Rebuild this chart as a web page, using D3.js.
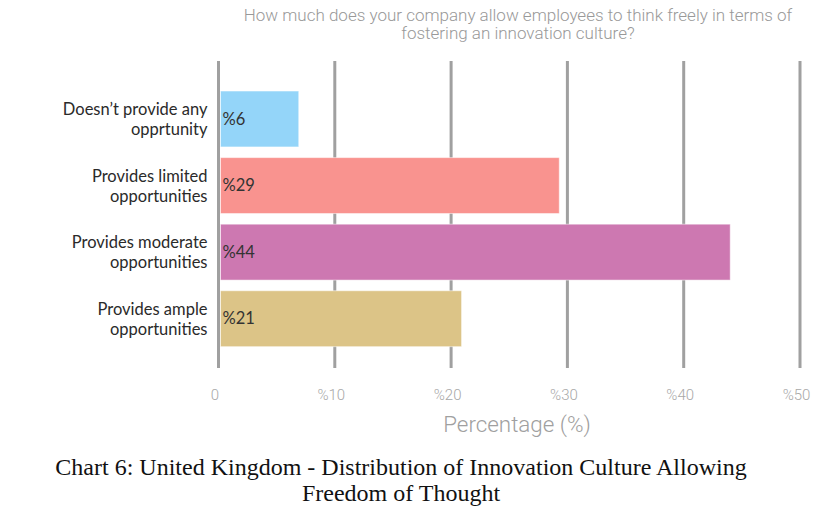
<!DOCTYPE html>
<html>
<head>
<meta charset="utf-8">
<script src="https://cdn.jsdelivr.net/npm/d3@7"></script>
<style>
  body { margin: 0; background: #fff; }
  svg { display: block; }
</style>
</head>
<body>
<svg id="chart"></svg>
<script>
// data
const categories = [
    ['Doesn\u2019t provide any', 'opprtunity'],
    ['Provides limited', 'opportunities'],
    ['Provides moderate', 'opportunities'],
    ['Provides ample', 'opportunities']
]
const values = [6.9, 29.3, 44.0, 20.9]
const valueLabels = ['%6', '%29', '%44', '%21']
const colors = ['#94d5f9', '#f9938f', '#cd78b1', '#dcc487']
const xTicks = [0, 10, 20, 30, 40, 50]
const titleLines = [
    'How much does your company allow employees to think freely in terms of',
    'fostering an innovation culture?'
]
const captionLines = [
    'Chart 6: United Kingdom - Distribution of Innovation Culture Allowing',
    'Freedom of Thought'
]

const width = 840
const height = 511
const margin = {top: 61, right: 40, bottom: 143, left: 218.5}
const innerW = width - margin.left - margin.right
const innerH = height - margin.top - margin.bottom

const svg = d3.select('#chart')
    .attr('width', width)
    .attr('height', height)

const x = d3.scaleLinear()
    .domain([0, 50])
    .range([0, innerW])

const y = d3.scaleBand()
    .domain(d3.range(categories.length))
    .range([24.7, 291])
    .paddingInner(0.16)
    .paddingOuter(0.08)

const g = svg.append('g')
    .attr('transform', 'translate(' + margin.left + ',' + margin.top + ')')

// vertical grid lines
g.selectAll('.grid')
    .data(xTicks)
    .enter()
    .append('line')
    .attr('class', 'grid')
    .attr('x1', d => x(d))
    .attr('x2', d => x(d))
    .attr('y1', 0)
    .attr('y2', innerH)
    .attr('stroke', '#a0a0a0')
    .attr('stroke-width', 3)

// bars
g.selectAll('.bar')
    .data(values)
    .enter()
    .append('rect')
    .attr('class', 'bar')
    .attr('x', x(0) + 2)
    .attr('y', (d, i) => y(i))
    .attr('width', d => x(d) - x(0) - 2)
    .attr('height', y.bandwidth())
    .attr('fill', (d, i) => colors[i])
    .attr('stroke', 'rgba(255,255,255,0.5)')
    .attr('stroke-width', 1)

// value labels inside bars
g.selectAll('.val')
    .data(valueLabels)
    .enter()
    .append('text')
    .attr('class', 'val')
    .attr('x', x(0) + 4)
    .attr('y', (d, i) => y(i) + y.bandwidth() / 2)
    .attr('dy', '0.35em')
    .style('font-family', 'Lato, sans-serif')
    .style('font-size', '16.5px')
    .style('fill', '#333')
    .text(d => d)

// category labels, two lines each
const cat = g.selectAll('.cat')
    .data(categories)
    .enter()
    .append('g')
    .attr('class', 'cat')
    .attr('transform', (d, i) => 'translate(-11,' + (y(i) + y.bandwidth() / 2) + ')')
cat.selectAll('text')
    .data(d => d)
    .enter()
    .append('text')
    .attr('text-anchor', 'end')
    .attr('y', (d, i) => i === 0 ? -4 : 16)
    .style('font-family', 'Lato, sans-serif')
    .style('font-size', '16.5px')
    .style('fill', '#2a2a2a')
    .text(d => d)

// x axis tick labels
const xAxis = g.append('g')
    .attr('class', 'axis axis--x')
    .attr('transform', 'translate(0,' + (innerH + 9) + ')')
    .call(d3.axisBottom(x).tickValues(xTicks).tickSize(0).tickPadding(12)
        .tickFormat(d => d === 0 ? '0' : '%' + d))
xAxis.select('.domain').remove()
xAxis.selectAll('text')
    .attr('dx', -4)
    .style('font-family', 'Roboto, sans-serif')
    .style('font-weight', 300)
    .style('font-size', '15px')
    .style('fill', '#a8a8a8')

// axis title
svg.append('text')
    .attr('x', 517)
    .attr('y', 432)
    .attr('text-anchor', 'middle')
    .style('font-family', 'Roboto, sans-serif')
    .style('font-weight', 300)
    .style('font-size', '22.4px')
    .style('fill', '#a0a0a0')
    .text('Percentage (%)')

// question title on top
svg.append('g')
    .selectAll('text')
    .data(titleLines)
    .enter()
    .append('text')
    .attr('x', 518)
    .attr('y', (d, i) => 21 + i * 18)
    .attr('text-anchor', 'middle')
    .style('font-family', 'Roboto, sans-serif')
    .style('font-weight', 300)
    .style('font-size', '17px')
    .style('fill', '#999')
    .text(d => d)

// caption below
svg.append('g')
    .selectAll('text')
    .data(captionLines)
    .enter()
    .append('text')
    .attr('x', 401)
    .attr('y', (d, i) => 475 + i * 26)
    .attr('text-anchor', 'middle')
    .style('font-family', '"Liberation Serif", serif')
    .style('font-size', '24px')
    .style('fill', '#111')
    .text(d => d)
</script>
</body>
</html>
